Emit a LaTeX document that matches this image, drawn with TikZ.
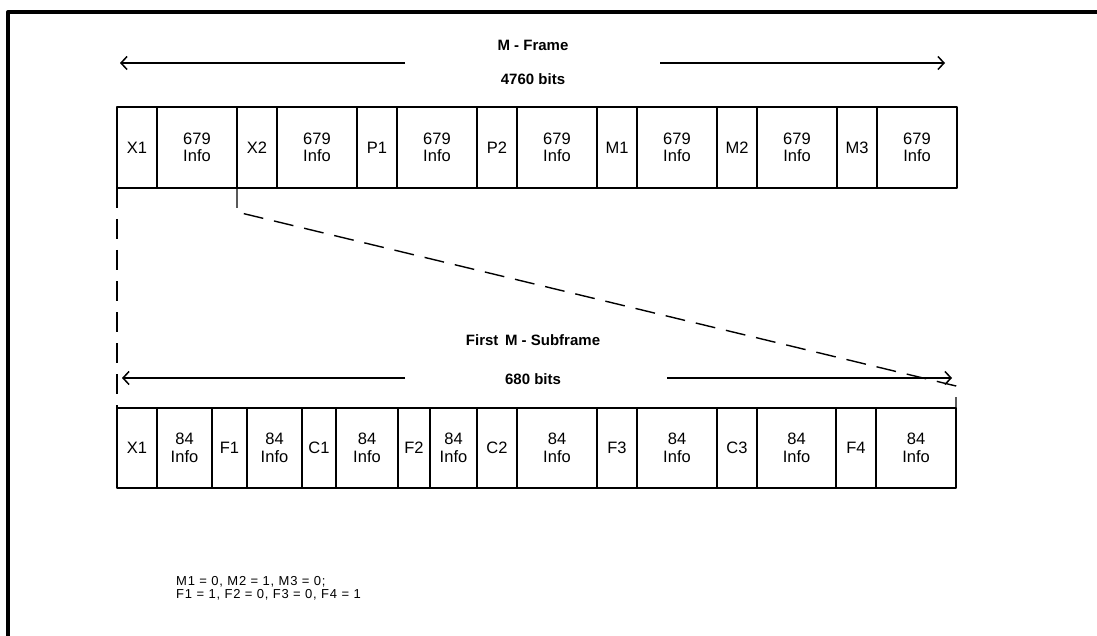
\documentclass[tikz,border=0pt]{standalone}
\usepackage{fontspec}
\setmainfont{Liberation Sans}
\usetikzlibrary{arrows.meta,calc,positioning}
\tikzset{
  cell/.style={draw,line width=1.3pt,inner sep=0pt,outer sep=0pt,align=center,font=\fontsize{16.5}{17.5}\selectfont},
  capt/.style={font=\bfseries\fontsize{15}{16}\selectfont},
  span/.style={->,line width=1.2pt},
  zoomline/.style={dash pattern=on 20pt off 11pt,line width=1.4pt},
  note/.style={align=left,inner sep=0pt,font=\fontsize{13}{13.5}\selectfont\addfontfeatures{LetterSpace=6}}
}

\begin{document}
\begin{tikzpicture}[x=1pt,y=-1pt,>={Straight Barb[length=6pt,width=13pt,line width=1.5pt]},line join=round]
\useasboundingbox (0,0) rectangle (1097,636);
% --- outer frame, top and left edge
\draw[line width=4pt] (8,636) -- (8,12) -- (1097,12);
% --- M-frame span
\node[capt] (mtitle) at (533,45) {M - Frame};
\node[capt] (mbits) at (533,79) {4760 bits};
\coordinate (mlA) at (405,63); \coordinate (mlB) at (120,63);
\coordinate (mrA) at (660,63); \coordinate (mrB) at (945,63);
\draw[span] (mlA) -- (mlB);
\draw[span] (mrA) -- (mrB);
% --- M-frame cells
\node[cell,minimum width=40pt,minimum height=81pt,anchor=west] (t1) at (117,147.5) {X1};
\foreach \lab/\w [count=\i from 2,remember=\i as \j (initially 1)] in {{679\\Info}/80,X2/40,{679\\Info}/80,P1/40,{679\\Info}/80,P2/40,{679\\Info}/80,M1/40,{679\\Info}/80,M2/40,{679\\Info}/80,M3/40,{679\\Info}/80}
  \node[cell,minimum width=\w pt,minimum height=81pt,anchor=west] (t\i) at (t\j.east) {\lab};
% --- subframe span
\node[capt] (stitle) at (533,340) {First\, M - Subframe};
\node[capt] (sbits) at (533,379) {680 bits};
\coordinate (slA) at (405,378); \coordinate (slB) at (122,378);
\coordinate (srA) at (667,378); \coordinate (srB) at (952,378);
\draw[span] (slA) -- (slB);
\draw[span] (srA) -- (srB);
% --- subframe cells
\node[cell,minimum width=40pt,minimum height=80pt,anchor=west] (b1) at (117,448) {X1};
\foreach \lab/\w [count=\i from 2,remember=\i as \j (initially 1)] in {{84\\Info}/55,F1/35,{84\\Info}/55,C1/34,{84\\Info}/62,F2/32,{84\\Info}/47,C2/40,{84\\Info}/80,F3/40,{84\\Info}/80,C3/40,{84\\Info}/79,F4/40,{84\\Info}/80}
  \node[cell,minimum width=\w pt,minimum height=80pt,anchor=west] (b\i) at (b\j.east) {\lab};
% --- expansion lines
\coordinate (kneeA) at ($(t3.south west)+(0,24)$);
\coordinate (kneeB) at ($(b16.north east)+(0,-22)$);
\draw[zoomline] (t1.south west) -- (b1.north west);
\draw[zoomline] (t3.south west) -- (kneeA) -- (kneeB) -- (b16.north east);
% --- bit values
\node[note,anchor=north west] (vals) at (176,576) {M1 = 0, M2 = 1, M3 = 0;\\F1 = 1, F2 = 0, F3 = 0, F4 = 1};
\end{tikzpicture}
\end{document}
